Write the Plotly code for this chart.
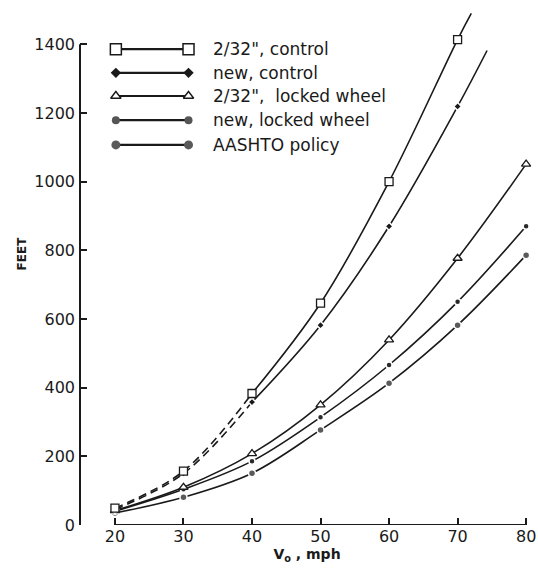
import plotly.graph_objects as go

# ---- data ----
speed_mph = [20, 30, 40, 50, 60, 70, 80]

control_2_32 = [49, 157, 383, 646, 1000, 1414]      # 20..70 mph
control_new = [45, 150, 358, 582, 870, 1219]        # 20..70 mph
locked_2_32 = [42, 110, 208, 350, 539, 777, 1051]   # 20..80 mph
locked_new = [40, 104, 186, 314, 466, 650, 870]     # 20..80 mph
aashto = [35, 81, 151, 277, 413, 582, 786]          # 20..80 mph

# curve continuation beyond the last plotted point (control curves)
control_2_32_end = (72.0, 1490)
control_new_end = (74.3, 1382)

y_ticks = [0, 200, 400, 600, 800, 1000, 1200, 1400]
x_ticks = [20, 30, 40, 50, 60, 70, 80]

legend_labels = ['2/32", control', 'new, control', '2/32",  locked wheel',
                 'new, locked wheel', 'AASHTO policy']

INK = "#1a1a1a"
FONT = "DejaVu Sans"

fig = go.Figure()

def curve(x, y, dash="solid"):
    fig.add_trace(go.Scatter(x=x, y=y, mode="lines",
                             line=dict(color=INK, width=1.6, dash=dash, shape="spline", smoothing=1.0),
                             hoverinfo="skip", showlegend=False))

def marks(x, y, symbol, size, fill, lw=1.3, lc=INK):
    fig.add_trace(go.Scatter(x=x, y=y, mode="markers",
                             marker=dict(symbol=symbol, size=size, color=fill,
                                         line=dict(color=lc, width=lw)),
                             hoverinfo="skip", showlegend=False))

# control curves: dashed up to 40 mph, solid beyond
xs_c = speed_mph[:len(control_2_32)]
curve(xs_c[:3], control_2_32[:3], dash="8px,5px")
curve(xs_c[2:] + [control_2_32_end[0]], control_2_32[2:] + [control_2_32_end[1]])
curve(xs_c[:3], control_new[:3], dash="8px,5px")
curve(xs_c[2:] + [control_new_end[0]], control_new[2:] + [control_new_end[1]])

# locked wheel / policy curves
curve(speed_mph, locked_2_32)
curve(speed_mph, locked_new)
curve(speed_mph, aashto)

# markers
marks(speed_mph, aashto, "circle", 7, "#5a5a5a", 1.5, "white")
marks(speed_mph, locked_new, "circle", 6, "#2a2a2a", 1.5, "white")
marks(speed_mph, locked_2_32, "triangle-up", 8, "white", 1.3)
marks(xs_c, control_new, "diamond", 6, INK, 1.5, "white")
marks(xs_c, control_2_32, "square", 8, "white", 1.3)

# ---- custom legend (marker — line — marker), in an overlay axis [0,1] ----
leg_rows = [0.924, 0.878, 0.833, 0.786, 0.738]
leg_x0, leg_x1, leg_tx = 0.079, 0.239, 0.289
leg_styles = [
    dict(symbol="square", size=11, color="white", line=dict(color=INK, width=1.5)),
    dict(symbol="diamond", size=8, color=INK, line=dict(color=INK, width=0)),
    dict(symbol="triangle-up", size=9, color="white", line=dict(color=INK, width=1.4)),
    dict(symbol="circle", size=8, color="#555555", line=dict(color="#555555", width=0)),
    dict(symbol="circle", size=9, color="#5a5a5a", line=dict(color="#5a5a5a", width=0)),
]
for ry, st, lab in zip(leg_rows, leg_styles, legend_labels):
    fig.add_trace(go.Scatter(x=[leg_x0, leg_x1], y=[ry, ry], mode="lines+markers",
                             line=dict(color=INK, width=2.2), marker=st,
                             xaxis="x2", yaxis="y2", hoverinfo="skip", showlegend=False))
    fig.add_annotation(x=leg_tx, y=ry, xref="paper", yref="paper", text=lab,
                       showarrow=False, xanchor="left", yanchor="middle",
                       font=dict(family=FONT, size=17, color=INK))

# y-axis title placed like the reference (rotated, left of tick labels)
fig.add_annotation(x=-0.127, y=0.528, xref="paper", yref="paper", text="<b>FEET</b>",
                   textangle=-90, showarrow=False, xanchor="center", yanchor="middle",
                   font=dict(family=FONT, size=12, color=INK))

# ---- axis lines (drawn only over the labelled spans) ----
fig.add_shape(type="line", xref="paper", yref="y", x0=0, x1=0, y0=y_ticks[0], y1=y_ticks[-1],
              line=dict(color=INK, width=2))
fig.add_shape(type="line", xref="x", yref="y", x0=x_ticks[0], x1=x_ticks[-1], y0=0, y1=0,
              line=dict(color=INK, width=2))

fig.update_layout(
    width=538, height=571,
    margin=dict(l=80, r=2, t=10, b=46),
    paper_bgcolor="white", plot_bgcolor="white",
    showlegend=False,
    font=dict(family=FONT, color=INK),
    xaxis=dict(range=[14.9, 81.15], tickvals=x_ticks, ticks="inside", ticklen=7,
               tickwidth=1.8, tickcolor=INK, showgrid=False, zeroline=False, showline=False,
               ticklabeloverflow="allow",
               tickfont=dict(family=FONT, size=16, color=INK),
               title=dict(text="<b>V<sub>o</sub> , mph</b>", font=dict(family=FONT, size=14, color=INK),
                          standoff=2)),
    yaxis=dict(range=[0, 1500], tickvals=y_ticks, ticks="inside", ticklen=7,
               tickwidth=1.8, tickcolor=INK, showgrid=False, zeroline=False, showline=False,
               ticklabeloverflow="allow",
               tickfont=dict(family=FONT, size=16, color=INK), ticklabelstandoff=4),
    xaxis2=dict(overlaying="x", anchor="y2", range=[0, 1], visible=False, fixedrange=True),
    yaxis2=dict(overlaying="y", anchor="x2", range=[0, 1], visible=False, fixedrange=True),
)

fig.write_html("out.html")
